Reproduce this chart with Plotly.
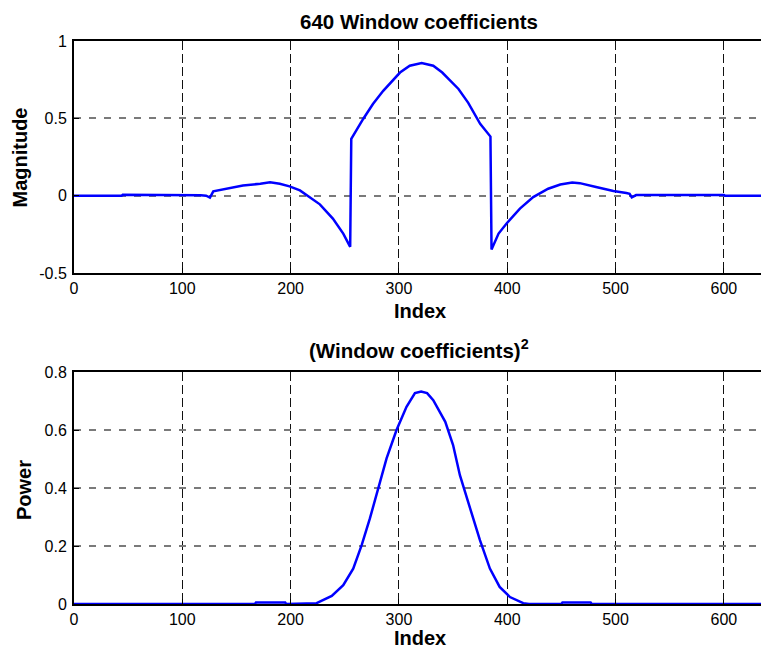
import plotly.graph_objects as go

# ---- data ----
top_x = [0, 44, 45, 113, 117, 122, 125.5, 128.6, 141, 156, 172, 181, 190, 199, 208.6, 216.3, 227, 239, 248.6, 255,
         256, 267, 276, 285.5, 295, 301, 310, 321, 331.7, 340, 346, 355, 364, 370, 375, 384.5,
         385.5, 392, 399.4, 411.7, 424, 437.8, 449, 460, 467, 482, 498, 510, 513, 515, 519, 600, 601, 640]
top_y = [0, 0, 0.006, 0.006, 0.003, 0.0, -0.012, 0.028, 0.045, 0.066, 0.077, 0.086, 0.077, 0.06, 0.034, -0.004, -0.056, -0.148, -0.245, -0.331,
         0.367, 0.496, 0.593, 0.678, 0.754, 0.796, 0.84, 0.857, 0.84, 0.796, 0.754, 0.69, 0.6, 0.53, 0.464, 0.382,
         -0.348, -0.245, -0.18, -0.084, -0.009, 0.045, 0.072, 0.085, 0.081, 0.056, 0.03, 0.017, 0.012, -0.011, 0.004, 0.004, 0, 0]

bot_x = [0, 167, 168, 195, 196, 224, 238, 248.6, 257.8, 265.6, 273.2, 281, 288.6, 297.8, 307, 314.8, 320.5,
         326, 331.7, 342.8, 350, 356.3, 365.5, 374.8, 384, 393, 402.5, 414.8, 420,
         450, 451, 477, 478, 640]
bot_y = [0, 0, 0.005, 0.005, 0, 0.003, 0.028, 0.065, 0.122, 0.203, 0.295, 0.398, 0.502, 0.6, 0.68, 0.727, 0.733,
         0.727, 0.703, 0.628, 0.548, 0.444, 0.335, 0.22, 0.122, 0.059, 0.024, 0.003, 0,
         0, 0.005, 0.005, 0, 0]

x_ticks = [0, 100, 200, 300, 400, 500, 600]
top_ticks = [-0.5, 0, 0.5, 1]
top_tick_text = ["-0.5", "0", "0.5", "1"]
bot_ticks = [0, 0.2, 0.4, 0.6, 0.8]
bot_tick_text = ["0", "0.2", "0.4", "0.6", "0.8"]

W, H = 761, 652
FONT = "Arial, Liberation Sans, sans-serif"
BLUE = "#0000FF"

fig = go.Figure()
fig.add_trace(go.Scatter(x=top_x, y=top_y, mode="lines", line=dict(color=BLUE, width=2.5),
                         xaxis="x", yaxis="y", showlegend=False))
fig.add_trace(go.Scatter(x=bot_x, y=bot_y, mode="lines", line=dict(color=BLUE, width=2.5),
                         xaxis="x2", yaxis="y2", showlegend=False))

xdom = [74 / W, 1]
top_dom = [1 - 273 / H, 1 - 41 / H]
bot_dom = [1 - 604 / H, 1 - 372 / H]

common_x = dict(range=[0, 634.3], tickvals=x_ticks, showgrid=True, gridcolor="#111",
                griddash="9px,4px", gridwidth=1, zeroline=False, showline=True,
                linecolor="black", linewidth=2, mirror=True, ticks="inside", ticklen=5,
                tickcolor="black", tickfont=dict(family=FONT, size=16, color="black"),
                domain=xdom, automargin=False)
common_y = dict(showgrid=True, gridcolor="#7a7a7a", griddash="7px,8px", gridwidth=1.6,
                zeroline=False, showline=True, linecolor="black", linewidth=2,
                ticks="inside", ticklen=5, tickcolor="black", ticklabelstandoff=2,
                tickfont=dict(family=FONT, size=16, color="black"), automargin=False)

fig.update_layout(
    width=W, height=H,
    margin=dict(l=0, r=0, t=0, b=0, pad=0, autoexpand=False),
    paper_bgcolor="white", plot_bgcolor="white",
    showlegend=False,
    xaxis=dict(anchor="y", **common_x),
    yaxis=dict(anchor="x", domain=top_dom, range=[-0.5, 1], tickvals=top_ticks,
               ticktext=top_tick_text, **common_y),
    xaxis2=dict(anchor="y2", **common_x),
    yaxis2=dict(anchor="x2", domain=bot_dom, range=[0, 0.8], tickvals=bot_ticks,
                ticktext=bot_tick_text, **common_y),
)

def ann(text, x, y, angle=0, size=20):
    fig.add_annotation(text=text, x=x / W, y=1 - y / H, xref="paper", yref="paper",
                       showarrow=False, xanchor="center", yanchor="middle", textangle=angle,
                       font=dict(family=FONT, size=size, color="black"))

ann("<b>640 Window coefficients</b>", 419, 21, size=20.5)
ann("<b>(Window coefficients)<sup>2</sup></b>", 419, 349, size=20.5)
ann("<b>Index</b>", 420, 311)
ann("<b>Index</b>", 420, 638)
ann("<b>Magnitude</b>", 19, 157.5, -90)
ann("<b>Power</b>", 24, 490, -90)

fig.write_html("out.html")
